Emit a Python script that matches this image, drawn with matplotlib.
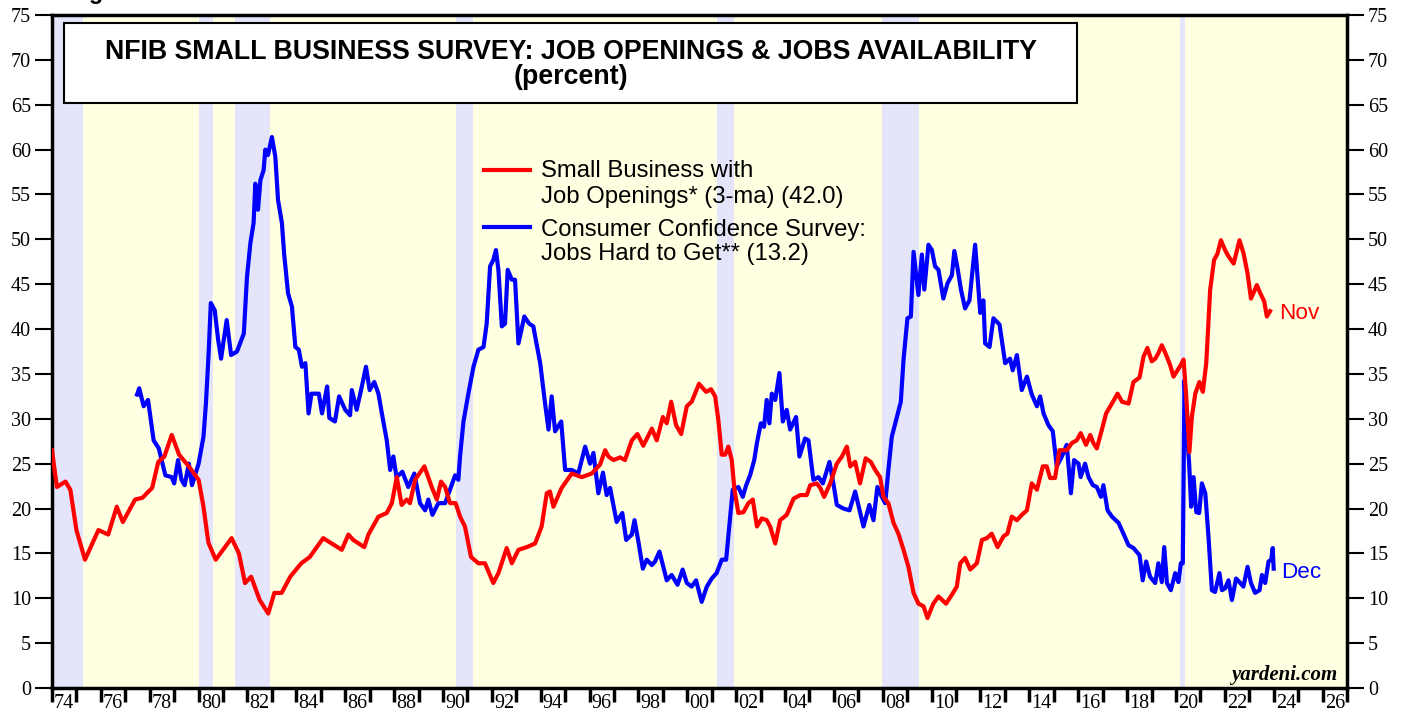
import matplotlib
matplotlib.use("Agg")
import matplotlib.pyplot as plt
from matplotlib.patches import Rectangle
from matplotlib.lines import Line2D

# ---------------- data ----------------
red_dates = [1974.0, 1974.2, 1974.55, 1974.75, 1975.0, 1975.35, 1975.9, 1976.3, 1976.65, 1976.9,
             1977.4, 1977.7, 1978.1, 1978.35, 1978.6, 1978.9, 1979.2, 1979.6, 1980.0, 1980.2,
             1980.4, 1980.7, 1981.35, 1981.65, 1981.9, 1982.15, 1982.5, 1982.85, 1983.1, 1983.4,
             1983.75, 1984.2, 1984.55, 1985.1, 1985.45, 1985.86, 1986.13, 1986.33, 1986.78, 1986.95,
             1987.36, 1987.7, 1987.91, 1988.11, 1988.31, 1988.52, 1988.65, 1988.86, 1989.24, 1989.54,
             1989.75, 1989.92, 1990.09, 1990.29, 1990.52, 1990.7, 1990.9, 1991.15, 1991.45, 1991.72,
             1992.06, 1992.27, 1992.61, 1992.82, 1993.09, 1993.43, 1993.77, 1994.04, 1994.25, 1994.38,
             1994.52, 1994.86, 1995.27, 1995.68, 1996.09, 1996.43, 1996.64, 1996.77, 1996.98, 1997.25,
             1997.45, 1997.73, 1997.96, 1998.2, 1998.55, 1998.75, 1999.0, 1999.16, 1999.34, 1999.54,
             1999.75, 1999.98, 2000.18, 2000.48, 2000.77, 2000.97, 2001.14, 2001.27, 2001.41, 2001.55,
             2001.68, 2001.82, 2001.93, 2002.09, 2002.3, 2002.5, 2002.68, 2002.85, 2003.05, 2003.25,
             2003.39, 2003.6, 2003.8, 2004.07, 2004.35, 2004.62, 2004.89, 2005.03, 2005.3, 2005.44,
             2005.6, 2005.85, 2006.12, 2006.33, 2006.53, 2006.67, 2006.87, 2007.07, 2007.3, 2007.51,
             2007.69, 2007.89, 2008.03, 2008.23, 2008.44, 2008.64, 2008.85, 2009.05, 2009.26, 2009.46,
             2009.67, 2009.83, 2010.07, 2010.28, 2010.59, 2010.83, 2011.03, 2011.17, 2011.37, 2011.58,
             2011.85, 2012.06, 2012.26, 2012.46, 2012.7, 2012.94, 2013.1, 2013.28, 2013.49, 2013.69,
             2013.9, 2014.1, 2014.31, 2014.55, 2014.71, 2014.85, 2015.05, 2015.23, 2015.53, 2015.74,
             2015.94, 2016.1, 2016.32, 2016.49, 2016.62, 2016.76, 2016.97, 2017.14, 2017.38, 2017.61,
             2017.79, 2018.06, 2018.26, 2018.51, 2018.67, 2018.83, 2019.01, 2019.15, 2019.28, 2019.42,
             2019.6, 2019.76, 2019.9, 2020.06, 2020.2, 2020.31, 2020.42, 2020.55, 2020.65, 2020.79,
             2020.96, 2021.1, 2021.24, 2021.4, 2021.56, 2021.7, 2021.84, 2022.01, 2022.15, 2022.36,
             2022.6, 2022.77, 2022.93, 2023.07, 2023.17, 2023.31, 2023.45, 2023.61, 2023.72, 2023.85]
red_vals = [26.5, 22.4, 23.0, 22.1, 17.6, 14.3, 17.6, 17.1, 20.2, 18.5,
            21.0, 21.2, 22.3, 25.2, 25.8, 28.2, 26.0, 24.7, 23.2, 20.2,
            16.2, 14.3, 16.7, 15.0, 11.7, 12.4, 9.8, 8.3, 10.6, 10.6,
            12.4, 13.9, 14.6, 16.7, 16.1, 15.4, 17.1, 16.5, 15.7, 17.1,
            19.1, 19.5, 20.6, 23.5, 20.4, 21.0, 20.6, 23.2, 24.7, 22.4,
            21.0, 23.0, 22.4, 20.6, 20.6, 19.1, 18.0, 14.6, 13.9, 13.9,
            11.7, 12.8, 15.6, 13.9, 15.4, 15.7, 16.1, 18.0, 21.7, 21.9,
            20.2, 22.3, 23.9, 23.5, 23.9, 24.9, 26.5, 25.8, 25.4, 25.7,
            25.4, 27.6, 28.3, 27.0, 28.9, 27.6, 30.2, 29.5, 31.9, 29.3,
            28.3, 31.4, 31.9, 33.9, 33.0, 33.3, 32.5, 29.9, 26.0, 26.0,
            26.9, 25.4, 22.1, 19.5, 19.6, 20.6, 21.0, 18.0, 18.9, 18.7,
            18.0, 16.1, 18.7, 19.3, 21.1, 21.5, 21.5, 22.6, 22.8, 22.3,
            21.3, 22.8, 25.0, 25.8, 26.9, 24.7, 25.2, 22.8, 25.6, 25.2,
            24.3, 23.5, 21.3, 20.6, 18.4, 17.2, 15.4, 13.5, 10.6, 9.4,
            9.1, 7.8, 9.4, 10.2, 9.4, 10.4, 11.3, 13.9, 14.5, 13.2,
            13.9, 16.5, 16.7, 17.2, 15.7, 16.9, 17.2, 19.1, 18.7, 19.3,
            19.8, 22.8, 22.1, 24.7, 24.7, 23.4, 23.4, 26.5, 26.5, 27.3,
            27.6, 28.4, 27.1, 28.2, 27.3, 26.7, 28.8, 30.6, 31.7, 32.8,
            31.9, 31.7, 34.1, 34.6, 36.9, 37.9, 36.4, 36.7, 37.3, 38.2,
            37.1, 36.0, 34.7, 35.4, 36.0, 36.6, 32.5, 26.3, 30.2, 32.8,
            34.1, 33.0, 36.2, 44.4, 47.7, 48.4, 49.9, 48.8, 48.1, 47.3,
            49.9, 48.4, 46.2, 43.4, 44.0, 44.9, 44.0, 43.1, 41.4, 42.0]

blue_dates = [1977.48, 1977.57, 1977.75, 1977.93, 1978.16, 1978.37, 1978.64, 1978.9, 1979.0, 1979.16,
              1979.3, 1979.43, 1979.6, 1979.73, 1980.0, 1980.2, 1980.3, 1980.41, 1980.5, 1980.66,
              1980.8, 1980.92, 1981.03, 1981.15, 1981.33, 1981.57, 1981.85, 1981.98, 1982.12, 1982.25,
              1982.32, 1982.43, 1982.53, 1982.66, 1982.73, 1982.84, 1983.0, 1983.14, 1983.25, 1983.41,
              1983.5, 1983.66, 1983.82, 1983.96, 1984.1, 1984.23, 1984.37, 1984.5, 1984.62, 1984.92,
              1985.05, 1985.26, 1985.35, 1985.58, 1985.75, 1986.0, 1986.2, 1986.27, 1986.47, 1986.68,
              1986.85, 1987.0, 1987.19, 1987.36, 1987.5, 1987.7, 1987.84, 1987.97, 1988.1, 1988.34,
              1988.58, 1988.83, 1989.06, 1989.27, 1989.4, 1989.57, 1989.81, 1990.09, 1990.29, 1990.5,
              1990.63, 1990.7, 1990.84, 1991.04, 1991.25, 1991.45, 1991.66, 1991.79, 1991.93, 1992.06,
              1992.17, 1992.27, 1992.41, 1992.54, 1992.65, 1992.82, 1992.95, 1993.09, 1993.33, 1993.53,
              1993.7, 1993.8, 1993.98, 1994.18, 1994.32, 1994.45, 1994.59, 1994.84, 1995.0, 1995.27,
              1995.54, 1995.82, 1996.02, 1996.16, 1996.36, 1996.55, 1996.7, 1996.84, 1997.11, 1997.34,
              1997.5, 1997.73, 1997.84, 1998.0, 1998.18, 1998.34, 1998.55, 1998.68, 1998.86, 1999.16,
              1999.36, 1999.6, 1999.81, 1999.98, 2000.18, 2000.36, 2000.59, 2000.8, 2001.0, 2001.2,
              2001.41, 2001.59, 2001.72, 2001.86, 2002.09, 2002.27, 2002.41, 2002.57, 2002.74, 2002.85,
              2003.01, 2003.14, 2003.25, 2003.36, 2003.46, 2003.6, 2003.77, 2003.91, 2004.07, 2004.21,
              2004.45, 2004.59, 2004.82, 2004.96, 2005.16, 2005.37, 2005.55, 2005.82, 2005.98, 2006.12,
              2006.39, 2006.64, 2006.87, 2007.21, 2007.45, 2007.62, 2007.78, 2007.96, 2008.1, 2008.23,
              2008.37, 2008.55, 2008.74, 2008.85, 2009.01, 2009.15, 2009.26, 2009.46, 2009.6, 2009.7,
              2009.87, 2010.01, 2010.14, 2010.28, 2010.48, 2010.65, 2010.83, 2010.93, 2011.06, 2011.2,
              2011.37, 2011.55, 2011.78, 2011.99, 2012.12, 2012.19, 2012.37, 2012.53, 2012.78, 2013.01,
              2013.21, 2013.32, 2013.49, 2013.69, 2013.9, 2014.1, 2014.31, 2014.44, 2014.58, 2014.78,
              2014.96, 2015.12, 2015.33, 2015.53, 2015.7, 2015.83, 2016.01, 2016.1, 2016.28, 2016.42,
              2016.6, 2016.76, 2016.93, 2017.03, 2017.2, 2017.38, 2017.65, 2017.85, 2018.06, 2018.26,
              2018.51, 2018.64, 2018.78, 2018.94, 2019.15, 2019.28, 2019.42, 2019.52, 2019.63, 2019.79,
              2019.97, 2020.1, 2020.2, 2020.28, 2020.35, 2020.45, 2020.54, 2020.62, 2020.72, 2020.83,
              2020.95, 2021.06, 2021.2, 2021.33, 2021.47, 2021.6, 2021.78, 2021.88, 2022.01, 2022.15,
              2022.29, 2022.46, 2022.6, 2022.76, 2022.93, 2023.07, 2023.24, 2023.42, 2023.52, 2023.65,
              2023.79, 2023.9, 2023.96, 2024.0]
blue_vals = [32.7, 33.4, 31.4, 32.1, 27.6, 26.7, 23.7, 23.5, 22.8, 25.4,
             23.2, 22.6, 25.0, 22.6, 25.0, 28.0, 31.7, 37.3, 42.9, 42.1,
             38.8, 36.7, 38.8, 41.0, 37.1, 37.5, 39.5, 45.8, 49.6, 51.8,
             56.2, 53.3, 56.6, 57.7, 60.0, 59.4, 61.4, 59.2, 54.4, 51.8,
             48.4, 44.0, 42.5, 38.0, 37.7, 35.8, 36.2, 30.6, 32.8, 32.8,
             30.6, 33.6, 30.1, 29.7, 32.5, 31.0, 30.4, 33.2, 31.0, 33.6,
             35.8, 33.2, 34.1, 32.8, 30.6, 27.6, 24.3, 25.8, 23.5, 24.1,
             22.4, 23.9, 20.6, 19.8, 21.0, 19.3, 20.6, 20.6, 22.1, 23.7,
             23.2, 25.8, 29.7, 32.8, 35.8, 37.7, 38.0, 40.6, 47.0, 47.7,
             48.8, 46.6, 40.3, 40.6, 46.6, 45.5, 45.5, 38.4, 41.4, 40.6,
             40.3, 38.8, 36.2, 31.7, 28.8, 32.5, 28.6, 29.7, 24.3, 24.3,
             23.9, 26.9, 25.0, 26.2, 21.7, 24.0, 21.5, 22.3, 18.5, 19.5,
             16.5, 17.1, 18.7, 16.3, 13.3, 14.3, 13.7, 14.1, 15.2, 12.0,
             12.6, 11.5, 13.2, 11.7, 11.3, 12.0, 9.6, 11.3, 12.2, 12.8,
             14.3, 14.3, 18.0, 22.1, 22.4, 21.3, 22.6, 23.7, 25.4, 27.3,
             29.5, 29.1, 32.1, 29.5, 32.8, 32.1, 35.1, 29.7, 31.0, 28.8,
             30.2, 25.8, 27.8, 27.6, 23.2, 23.5, 22.8, 25.2, 22.8, 20.4,
             20.0, 19.8, 21.9, 18.0, 20.4, 18.7, 22.4, 21.3, 20.6, 24.3,
             28.0, 29.9, 31.9, 36.6, 41.2, 41.4, 48.6, 43.8, 48.3, 44.4,
             49.4, 48.8, 47.0, 46.6, 43.4, 45.1, 46.0, 48.7, 46.8, 44.4,
             42.3, 43.2, 49.4, 41.8, 43.2, 38.4, 38.0, 41.2, 40.5, 36.2,
             36.7, 35.4, 37.1, 33.2, 34.7, 32.7, 31.4, 32.5, 30.6, 29.3,
             28.6, 24.7, 25.8, 27.1, 21.7, 25.4, 25.0, 23.5, 25.0, 23.5,
             22.6, 22.4, 21.3, 22.6, 19.8, 19.1, 18.4, 17.2, 15.9, 15.6,
             14.8, 12.0, 14.1, 12.4, 11.7, 13.9, 11.8, 15.7, 11.7, 10.9,
             12.8, 11.8, 13.9, 13.9, 34.3, 28.4, 25.0, 20.2, 23.5, 19.6,
             19.5, 22.8, 21.7, 16.9, 10.9, 10.7, 12.8, 10.9, 11.1, 12.0,
             9.8, 12.2, 11.8, 11.3, 13.5, 11.7, 10.6, 10.9, 12.6, 11.7,
             14.1, 14.3, 15.6, 13.3]

recession_starts = [1973.9, 1980.0, 1981.5, 1990.55, 2001.2, 2007.95, 2020.15]
recession_ends = [1975.25, 1980.58, 1982.92, 1991.25, 2001.92, 2009.5, 2020.35]

year_ticks = list(range(1974, 2028))
label_years = list(range(1974, 2027, 2))
label_texts = ["%02d" % (y % 100) for y in label_years]
y_ticks = list(range(0, 76, 5))

title_line1 = "NFIB SMALL BUSINESS SURVEY: JOB OPENINGS & JOBS AVAILABILITY"
title_line2 = "(percent)"
legend_red = ["Small Business with", "Job Openings* (3-ma) (42.0)"]
legend_blue = ["Consumer Confidence Survey:", "Jobs Hard to Get** (13.2)"]

# ---------------- figure ----------------
W, H = 1407, 717
fig = plt.figure(figsize=(W / 100, H / 100), dpi=100)
fig.patch.set_facecolor("white")

def fx(px):
    return px / W

def fy(py):
    return 1 - py / H

L, R, T, B = 52, 1347, 15, 688
ax = fig.add_axes([fx(L), fy(B), fx(R - L), (B - T) / H])
ax.set_xlim(1974, 2027)
ax.set_ylim(0, 75)
ax.set_facecolor("#ffffe2")

for s, e in zip(recession_starts, recession_ends):
    ax.axvspan(s, e, color="#e4e4fa", lw=0, zorder=0)

RED = "#ff0000"
BLUE = "#0000ff"
ax.plot(blue_dates, blue_vals, color=BLUE, lw=3.0, solid_joinstyle="round", zorder=3)
ax.plot(red_dates, red_vals, color=RED, lw=3.0, solid_joinstyle="round", zorder=4)

for sp in ax.spines.values():
    sp.set_linewidth(2.5)
    sp.set_color("black")

serif = "Liberation Serif"
sans = "Liberation Sans"

ax.set_yticks(y_ticks)
ax.tick_params(axis="y", which="major", direction="out", length=12, width=1.5,
               left=True, right=True, labelleft=True, labelright=True,
               labelsize=14.5, pad=3)

ax.set_xticks(year_ticks)
ax.set_xticklabels([])
ax.set_xticks([y + 0.5 for y in label_years], minor=True)
ax.set_xticklabels(label_texts, minor=True, fontfamily=serif, fontsize=14.5)
ax.tick_params(axis="x", which="major", direction="out", length=10, width=2.5)
ax.tick_params(axis="x", which="minor", length=0, pad=4)
for t in ax.yaxis.get_major_ticks():
    t.label2.set_fontfamily(serif)
    t.label1.set_fontfamily(serif)

# ---------------- title box ----------------
box = Rectangle((fx(64), fy(103)), fx(1077 - 64), (103 - 23) / H,
                transform=fig.transFigure, facecolor="white", edgecolor="black",
                lw=1.5, zorder=10)
fig.patches.append(box)
fig.text(fx(571), fy(59), title_line1, ha="center", va="baseline",
         fontfamily=sans, fontweight="bold", fontsize=19.3, zorder=11)
fig.text(fx(571), fy(84), title_line2, ha="center", va="baseline",
         fontfamily=sans, fontweight="bold", fontsize=19.3, zorder=11)

# clipped figure caption at very top (only its descenders show, as in the reference)
fig.text(fx(68), fy(-1), "Figure", ha="left", va="baseline",
         fontfamily=sans, fontweight="bold", fontsize=16.8)

# ---------------- legend ----------------
fig.add_artist(Line2D([fx(484), fx(530)], [fy(170), fy(170)], color=RED, lw=3.0))
fig.add_artist(Line2D([fx(484), fx(530)], [fy(227), fy(227)], color=BLUE, lw=3.0))
for txt, yb in zip(legend_red + legend_blue, [177, 203, 236, 260]):
    fig.text(fx(541), fy(yb), txt, ha="left", va="baseline",
             fontfamily=sans, fontsize=17.2, color="black")

# ---------------- end labels ----------------
fig.text(fx(1279), fy(319), "Nov", ha="left", va="baseline",
         fontfamily=sans, fontsize=16.2, color=RED)
fig.text(fx(1281), fy(578), "Dec", ha="left", va="baseline",
         fontfamily=sans, fontsize=16.2, color=BLUE)
fig.text(fx(1337), fy(680), "yardeni.com", ha="right", va="baseline",
         fontfamily=serif, fontweight="bold", fontstyle="italic", fontsize=15)

fig.savefig("out.png", dpi=100)
